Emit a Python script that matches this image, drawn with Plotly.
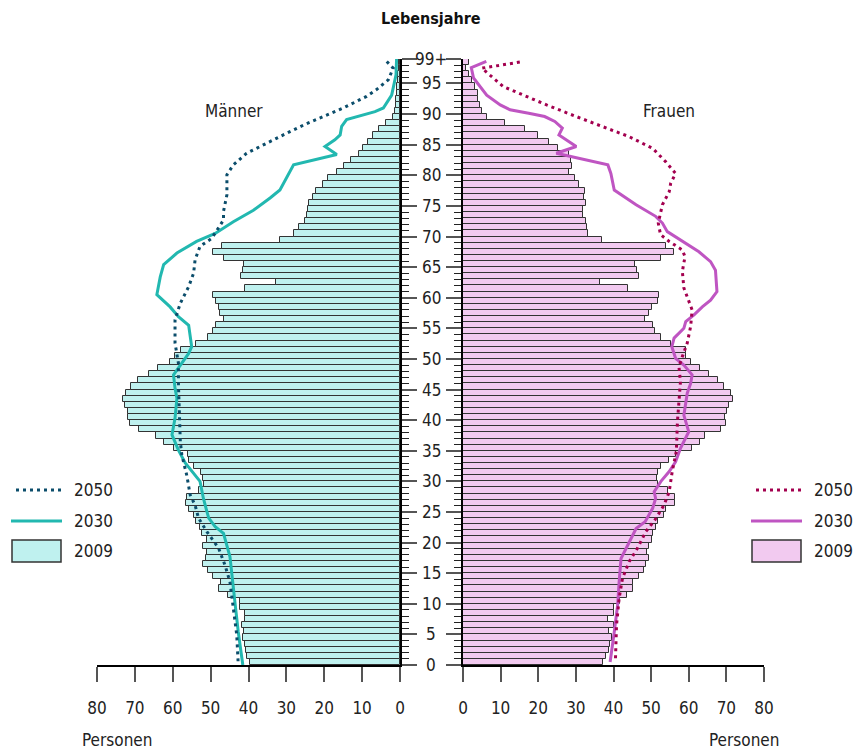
import plotly.graph_objects as go

# ---------------- data ----------------
ages = list(range(0, 99))  # bar index 0..98 (top bar = "99+")

men_2009 = [39.6, 40.5, 40.6, 40.9, 41.5, 41.3, 41.8, 40.9, 40.9, 42.2,
            42.2, 45.3, 47.7, 47.3, 49.3, 50.6, 52.1, 51.2, 51.0, 51.9,
            51.0, 52.2, 52.7, 53.8, 54.5, 55.6, 56.5, 56.3, 53.2, 51.7,
            51.9, 52.6, 54.5, 55.7, 56.1, 59.8, 62.4, 64.5, 68.8, 71.4,
            71.7, 71.9, 72.7, 73.2, 72.3, 71.1, 69.2, 66.4, 63.8, 60.7,
            59.5, 57.8, 53.8, 50.7, 49.3, 48.7, 46.4, 47.5, 47.7, 48.7,
            49.4, 40.9, 32.8, 42.0, 41.5, 41.1, 46.6, 49.5, 46.9, 31.8,
            28.1, 26.6, 25.2, 24.5, 24.2, 23.9, 22.9, 22.3, 20.2, 19.1,
            16.7, 14.8, 13.0, 10.9, 9.7, 8.5, 7.0, 5.6, 3.7, 1.9,
            1.2, 1.1, 1.0, 0.9, 0.8, 0.6, 0.4, 0.3, 0.2]

women_2009 = [37.1, 38.0, 38.9, 39.2, 39.5, 38.9, 40.0, 38.5, 40.2, 40.2,
              41.8, 43.5, 45.3, 45.3, 46.8, 48.2, 48.6, 49.5, 48.8, 49.5,
              50.1, 50.4, 51.2, 51.7, 53.4, 53.9, 56.3, 56.3, 54.6, 51.7,
              51.5, 51.7, 52.6, 54.8, 56.7, 60.9, 62.9, 64.4, 68.6, 69.9,
              69.7, 70.2, 70.6, 71.7, 71.2, 69.3, 67.7, 65.3, 63.1, 60.7,
              59.4, 59.2, 55.2, 52.7, 51.0, 50.4, 48.3, 49.5, 50.1, 51.8,
              52.1, 43.8, 36.3, 46.8, 46.2, 45.7, 52.6, 56.1, 53.9, 36.9,
              33.2, 33.0, 32.6, 31.9, 31.9, 32.6, 32.1, 32.3, 30.7, 29.7,
              28.3, 29.0, 28.8, 28.3, 25.3, 22.8, 20.0, 16.6, 11.2, 6.5,
              5.0, 4.4, 4.1, 4.0, 3.3, 2.4, 1.5, 0.9, 1.5]

men_2030_age = [99.0, 96.4, 93.1, 91.0, 90.4, 89.6, 89.1, 88.0, 86.6, 85.8,
                84.7, 83.4, 81.7, 77.6, 76.3, 74.3, 72.4, 70.5, 69.2, 67.3,
                65.4, 63.4, 60.5, 58.5, 56.9, 55.5, 53.6, 52.0, 50.9, 49.0,
                47.4, 45.2, 43.6, 40.3, 37.6, 35.1, 33.0, 30.0, 27.2, 25.1,
                24.0, 22.6, 21.5, 17.7, 14.2, 9.8, 5.4, 0.0]
men_2030_val = [0.9, 1.05, 2.2, 4.4, 6.6, 11.4, 14.1, 15.4, 15.8, 17.2,
                19.8, 16.7, 28.1, 31.7, 34.3, 38.7, 44.0, 48.8, 53.7, 58.9,
                62.4, 63.3, 64.2, 60.7, 58.5, 55.8, 55.4, 55.0, 55.8, 58.0,
                59.8, 59.4, 58.9, 59.4, 60.2, 58.5, 56.7, 52.8, 51.9, 51.0,
                50.5, 48.8, 46.6, 44.9, 44.2, 43.5, 42.7, 41.5]

men_2050_age = [98.6, 97.5, 95.6, 94.0, 92.9, 91.0, 89.6, 88.2, 86.6, 85.0,
                83.6, 81.7, 80.1, 76.8, 74.1, 72.7, 69.7, 68.4, 66.2, 64.0,
                61.8, 59.1, 56.4, 52.6, 49.3, 45.8, 41.4, 36.5, 34.3, 31.0,
                27.8, 26.1, 24.0, 21.8, 19.1, 16.3, 13.6, 9.3, 4.9, 0.0]
men_2050_val = [3.5, 1.8, 3.1, 6.2, 8.8, 15.0, 20.2, 25.5, 30.8, 36.1,
                40.5, 44.0, 45.7, 45.7, 46.6, 46.6, 49.7, 52.8, 54.1, 54.5,
                55.8, 58.0, 59.4, 59.4, 58.5, 58.5, 58.2, 58.0, 57.6, 56.3,
                55.4, 54.1, 53.2, 51.0, 47.9, 46.2, 44.9, 44.0, 43.1, 42.7]

women_2030_age = [98.6, 97.6, 95.9, 93.1, 91.5, 90.7, 90.1, 89.6, 88.8, 87.7,
                  86.6, 84.7, 83.6, 81.7, 80.3, 77.6, 75.2, 73.3, 72.2, 70.8,
                  67.5, 65.9, 64.5, 61.0, 59.6, 58.5, 57.2, 56.1, 55.0, 53.4,
                  52.0, 50.1, 49.0, 47.4, 46.0, 44.4, 40.8, 38.1, 35.4, 33.2,
                  31.6, 30.0, 28.3, 27.2, 25.6, 23.4, 22.3, 19.1, 17.4, 13.6,
                  9.8, 5.4, 0.5]
women_2030_val = [6.2, 2.2, 2.8, 6.3, 9.9, 12.5, 17.8, 21.7, 24.4, 26.4,
                  25.5, 30.1, 24.8, 38.5, 39.3, 40.2, 46.0, 51.2, 53.0, 54.3,
                  62.7, 65.8, 67.1, 67.5, 65.8, 63.6, 61.4, 59.2, 58.7, 56.1,
                  55.5, 56.5, 58.7, 60.9, 60.5, 59.6, 58.7, 60.0, 57.8, 56.5,
                  54.8, 52.6, 50.8, 51.2, 50.4, 48.4, 46.0, 43.3, 42.0, 41.5,
                  41.1, 40.2, 39.1]

women_2050_age = [98.5, 97.5, 94.5, 93.1, 91.5, 89.6, 88.0, 86.3, 84.4, 82.2,
                  80.3, 78.7, 77.3, 75.2, 72.2, 70.3, 69.2, 67.8, 66.7, 64.3,
                  61.6, 58.0, 55.3, 52.6, 50.4, 48.7, 46.3, 43.6, 39.8, 34.9,
                  31.6, 28.3, 26.1, 23.7, 21.8, 19.1, 16.9, 14.2, 10.9, 6.5,
                  0.5]
women_2050_val = [15.1, 5.0, 10.7, 16.0, 22.2, 30.1, 37.1, 44.2, 50.4, 53.9,
                  56.5, 55.2, 54.8, 53.0, 51.9, 52.5, 54.8, 58.3, 59.0, 58.3,
                  58.7, 60.9, 60.5, 59.6, 58.3, 57.4, 57.8, 57.4, 57.0, 56.7,
                  55.6, 54.8, 53.4, 51.0, 48.6, 46.4, 44.2, 42.4, 41.5, 40.8,
                  40.5]

x_ticks = [0, 10, 20, 30, 40, 50, 60, 70, 80]
y_tick_vals = [0, 5, 10, 15, 20, 25, 30, 35, 40, 45, 50, 55, 60, 65, 70, 75, 80, 85, 90, 95, 99]
y_tick_text = ["0", "5", "10", "15", "20", "25", "30", "35", "40", "45", "50",
               "55", "60", "65", "70", "75", "80", "85", "90", "95", "99+"]
legend_years = ["2050", "2030", "2009"]

# ---------------- style ----------------
FONT = "DejaVu Sans Condensed, Liberation Sans Narrow, Roboto, sans-serif"
MEN_FILL = "#bff1ef"
WOMEN_FILL = "#f2caf0"
MEN_2030 = "#22b8b0"
MEN_2050 = "#0b4d6b"
WOMEN_2030 = "#bf55c2"
WOMEN_2050 = "#a3004f"
EDGE = "#333333"
DOT = "3px,4px"
FS = 17

W, H = 853, 751
L, R, T, B = 97, 89, 59, 86
PW, PH = W - L - R, H - T - B


def px(x):
    return (x - L) / PW


def py(y):
    return (H - B - y) / PH


bar_y = [a + 0.5 for a in ages]

fig = go.Figure()
fig.add_trace(go.Bar(x=men_2009, y=bar_y, orientation="h", width=1,
                     marker=dict(color=MEN_FILL, line=dict(color=EDGE, width=1)),
                     xaxis="x", yaxis="y", showlegend=False, hoverinfo="skip"))
fig.add_trace(go.Bar(x=women_2009, y=bar_y, orientation="h", width=1,
                     marker=dict(color=WOMEN_FILL, line=dict(color=EDGE, width=1)),
                     xaxis="x2", yaxis="y2", showlegend=False, hoverinfo="skip"))
fig.add_trace(go.Scatter(x=men_2030_val, y=men_2030_age, mode="lines",
                         line=dict(color=MEN_2030, width=3), cliponaxis=False,
                         xaxis="x", yaxis="y", showlegend=False))
fig.add_trace(go.Scatter(x=men_2050_val, y=men_2050_age, mode="lines",
                         line=dict(color=MEN_2050, width=3, dash=DOT), cliponaxis=False,
                         xaxis="x", yaxis="y", showlegend=False))
fig.add_trace(go.Scatter(x=women_2030_val, y=women_2030_age, mode="lines",
                         line=dict(color=WOMEN_2030, width=3), cliponaxis=False,
                         xaxis="x2", yaxis="y2", showlegend=False))
fig.add_trace(go.Scatter(x=women_2050_val, y=women_2050_age, mode="lines",
                         line=dict(color=WOMEN_2050, width=3, dash=DOT), cliponaxis=False,
                         xaxis="x2", yaxis="y2", showlegend=False))

xcommon = dict(tickvals=x_ticks, ticks="outside", ticklen=15, tickcolor="#555",
               tickwidth=1.5, showline=True, linecolor="black", linewidth=1.5,
               showgrid=False, zeroline=False, ticklabelstandoff=12,
               tickfont=dict(family=FONT, size=FS, color="#222"))
ycommon = dict(range=[0, 99], tickvals=y_tick_vals, showticklabels=False,
               ticks="outside", ticklen=15, tickcolor="#555", tickwidth=1.5,
               minor=dict(dtick=1, tick0=0, ticks="outside", ticklen=7,
                          tickcolor="#222", tickwidth=1),
               showline=True, linecolor="black", linewidth=1.5,
               showgrid=False, zeroline=False)

left_end = px(400)
right_start = px(463)

fig.update_layout(
    width=W, height=H,
    margin=dict(l=L, r=R, t=T, b=B),
    plot_bgcolor="white", paper_bgcolor="white",
    bargap=0, showlegend=False,
    font=dict(family=FONT, size=FS, color="#222"),
    xaxis=dict(domain=[0, left_end], range=[80, 0], anchor="y", **xcommon),
    yaxis=dict(anchor="x", side="right", **ycommon),
    xaxis2=dict(domain=[right_start, 1], range=[0, 80], anchor="y2", **xcommon),
    yaxis2=dict(anchor="x2", side="left", matches="y", **ycommon),
)

ann = []
for v, t in zip(y_tick_vals, y_tick_text):
    ann.append(dict(x=px(431), xref="paper", y=v, yref="y", text=t, showarrow=False,
                    xanchor="center", yanchor="middle",
                    font=dict(family=FONT, size=FS, color="#222")))
ann.append(dict(x=px(431), y=py(18), xref="paper", yref="paper", text="<b>Lebensjahre</b>",
                showarrow=False, xanchor="center", yanchor="middle",
                font=dict(family=FONT, size=16, color="#111")))
ann.append(dict(x=px(234), y=py(111), xref="paper", yref="paper", text="Männer",
                showarrow=False, xanchor="center", yanchor="middle",
                font=dict(family=FONT, size=FS, color="#222")))
ann.append(dict(x=px(669), y=py(111), xref="paper", yref="paper", text="Frauen",
                showarrow=False, xanchor="center", yanchor="middle",
                font=dict(family=FONT, size=FS, color="#222")))
ann.append(dict(x=px(80), y=py(740), xref="paper", yref="paper", text="Personen",
                showarrow=False, xanchor="left", yanchor="middle",
                font=dict(family=FONT, size=FS, color="#222")))
ann.append(dict(x=px(781), y=py(740), xref="paper", yref="paper", text="Personen",
                showarrow=False, xanchor="right", yanchor="middle",
                font=dict(family=FONT, size=FS, color="#222")))

shapes = []
legend_rows_y = [490, 521, 551]
for (lx0, lx1, tx, c50, c30, fill) in [(13, 62, 72, MEN_2050, MEN_2030, MEN_FILL),
                                        (753, 802, 812, WOMEN_2050, WOMEN_2030, WOMEN_FILL)]:
    shapes.append(dict(type="line", xref="paper", yref="paper",
                       x0=px(lx0 + 3), x1=px(lx1), y0=py(490), y1=py(490),
                       line=dict(color=c50, width=3, dash=DOT)))
    shapes.append(dict(type="line", xref="paper", yref="paper",
                       x0=px(lx0 - 2), x1=px(lx1), y0=py(521), y1=py(521),
                       line=dict(color=c30, width=3)))
    shapes.append(dict(type="rect", xref="paper", yref="paper",
                       x0=px(lx0 - 1), x1=px(lx1 - 1), y0=py(562), y1=py(540),
                       fillcolor=fill, line=dict(color=EDGE, width=1.5)))
    for yr, yy in zip(legend_years, legend_rows_y):
        ann.append(dict(x=px(tx), y=py(yy), xref="paper", yref="paper", text=yr,
                        showarrow=False, xanchor="left", yanchor="middle",
                        font=dict(family=FONT, size=FS, color="#222")))

fig.update_layout(annotations=ann, shapes=shapes)
fig.write_html("out.html", config={"displayModeBar": False},
               post_script="document.body.style.margin='0';document.body.style.overflow='hidden';")
